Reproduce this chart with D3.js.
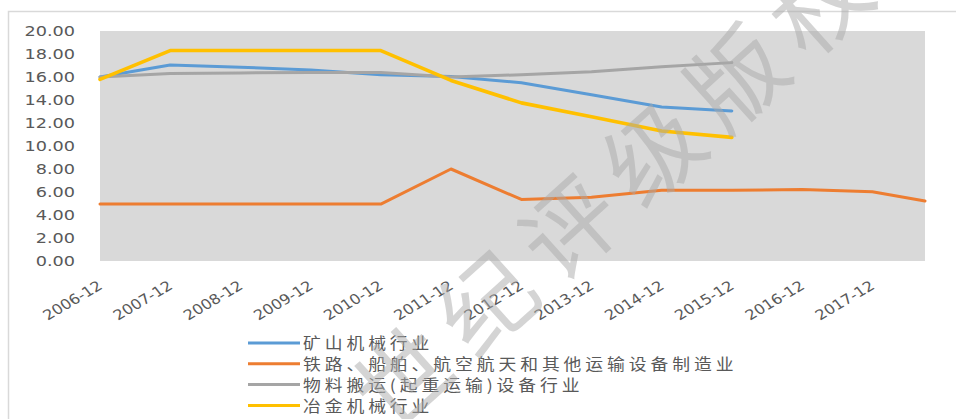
<!DOCTYPE html>
<html>
<head>
<meta charset="utf-8">
<script src="https://cdn.jsdelivr.net/npm/d3@7/dist/d3.min.js"></script>
<style>
  html, body { margin: 0; padding: 0; background: #fff; }
  svg { display: block; }
</style>
</head>
<body>
<svg id="chart" width="956" height="419"></svg>
<script>
// Year-end observation periods (last one is the latest partial-year reading)
const periods = ["2006-12","2007-12","2008-12","2009-12","2010-12","2011-12","2012-12",
                 "2013-12","2014-12","2015-12","2016-12","2017-12","2018-09"];
const tickLabels = ["2006-12","2007-12","2008-12","2009-12","2010-12","2011-12",
                    "2012-12","2013-12","2014-12","2015-12","2016-12","2017-12"];
const yTicks = [0, 2, 4, 6, 8, 10, 12, 14, 16, 18, 20];

const seriesNames = ["矿山机械行业", "铁路、船舶、航空航天和其他运输设备制造业",
                     "物料搬运(起重运输)设备行业", "冶金机械行业"];
const seriesColors = ["#5B9BD5", "#ED7D31", "#A5A5A5", "#FFC000"];

const mining     = [16.00, 17.05, 16.85, 16.60, 16.20, 16.05, 15.50, 14.45, 13.40, 13.05];
const transport  = [4.95, 4.95, 4.95, 4.95, 4.95, 8.00, 5.35, 5.55, 6.15, 6.15, 6.22, 6.02, 5.22];
const handling   = [16.00, 16.30, 16.35, 16.40, 16.40, 16.00, 16.20, 16.45, 16.90, 17.25];
const metallurgy = [15.80, 18.30, 18.30, 18.30, 18.30, 15.70, 13.75, 12.55, 11.30, 10.75];

const allSeries = [mining, transport, handling, metallurgy];

const parse = d3.timeParse("%Y-%m");
const svg = d3.select("#chart");

// outer chart frame
svg.append("rect")
  .attr("x", 8.5).attr("y", 11.5).attr("width", 1000).attr("height", 500)
  .attr("fill", "none").attr("stroke", "#D9D9D9").attr("stroke-width", 1.5);

const plot = { left: 100, right: 925, top: 31, bottom: 261 };

const x = d3.scaleTime()
  .domain([parse(periods[0]), parse(periods[periods.length - 1])])
  .range([plot.left, plot.right]);
const y = d3.scaleLinear().domain([0, 20]).range([plot.bottom, plot.top]);

// plot area background
svg.append("rect")
  .attr("x", plot.left).attr("y", plot.top)
  .attr("width", plot.right - plot.left).attr("height", plot.bottom - plot.top)
  .attr("fill", "#D9D9D9");

const SX = 1.22; // horizontal stretch of chart text
const textColor = "#595959";

// y axis labels
const yAxis = d3.axisLeft(y).tickValues(yTicks).tickFormat(d3.format(".2f")).tickSize(0).tickPadding(0);
const yg = svg.append("g").attr("transform", `translate(${plot.left - 25},0)`).call(yAxis);
yg.select(".domain").remove();
yg.selectAll(".tick text")
  .attr("x", null).attr("dy", null)
  .attr("dominant-baseline", "central")
  .attr("transform", `scale(${SX},1)`)
  .attr("font-family", "DejaVu Sans")
  .attr("font-size", 14.5)
  .attr("fill", textColor)
  .attr("text-anchor", "end");

// x axis labels, slanted
const xAxis = d3.axisBottom(x).tickValues(tickLabels.map(parse)).tickFormat(d3.timeFormat("%Y-%m")).tickSize(0);
const xg = svg.append("g").attr("transform", `translate(0,${plot.bottom})`).call(xAxis);
xg.select(".domain").remove();
xg.selectAll(".tick text")
  .attr("y", null).attr("dy", null)
  .attr("text-anchor", "end")
  .attr("transform", `translate(3,27) scale(1.15,1) rotate(-34)`)
  .attr("font-family", "DejaVu Sans")
  .attr("font-size", 14)
  .attr("fill", textColor);

// series lines
const line = d3.line()
  .x((d, i) => x(parse(periods[i])))
  .y(d => y(d));

allSeries.forEach((vals, k) => {
  svg.append("path")
    .datum(vals)
    .attr("d", line)
    .attr("fill", "none")
    .attr("stroke", seriesColors[k])
    .attr("stroke-width", k === 3 ? 3.6 : 3)
    .attr("stroke-linejoin", "round")
    .attr("stroke-linecap", "round");
});

// legend
const legend = svg.append("g").attr("transform", "translate(248,343)");
seriesNames.forEach((name, k) => {
  const row = legend.append("g").attr("transform", `translate(0,${k * 20.8})`);
  row.append("line")
    .attr("x1", 0).attr("x2", 52).attr("y1", 0).attr("y2", 0)
    .attr("stroke", seriesColors[k]).attr("stroke-width", 3);
  row.append("text")
    .attr("transform", `translate(55,0) scale(1.15,1)`)
    .attr("dominant-baseline", "central")
    .attr("font-family", "Noto Sans CJK SC")
    .attr("font-size", 15.5)
    .attr("letter-spacing", 3.4)
    .attr("fill", textColor)
    .text(name);
});

// diagonal watermark
svg.append("text")
  .attr("transform", "translate(392,436) rotate(-42)")
  .attr("font-family", "Noto Sans CJK SC")
  .attr("font-size", 95)
  .attr("fill", "#AAAAAA")
  .attr("opacity", 0.5)
  .attr("letter-spacing", 17)
  .text("世纪评级版权");
</script>
</body>
</html>
